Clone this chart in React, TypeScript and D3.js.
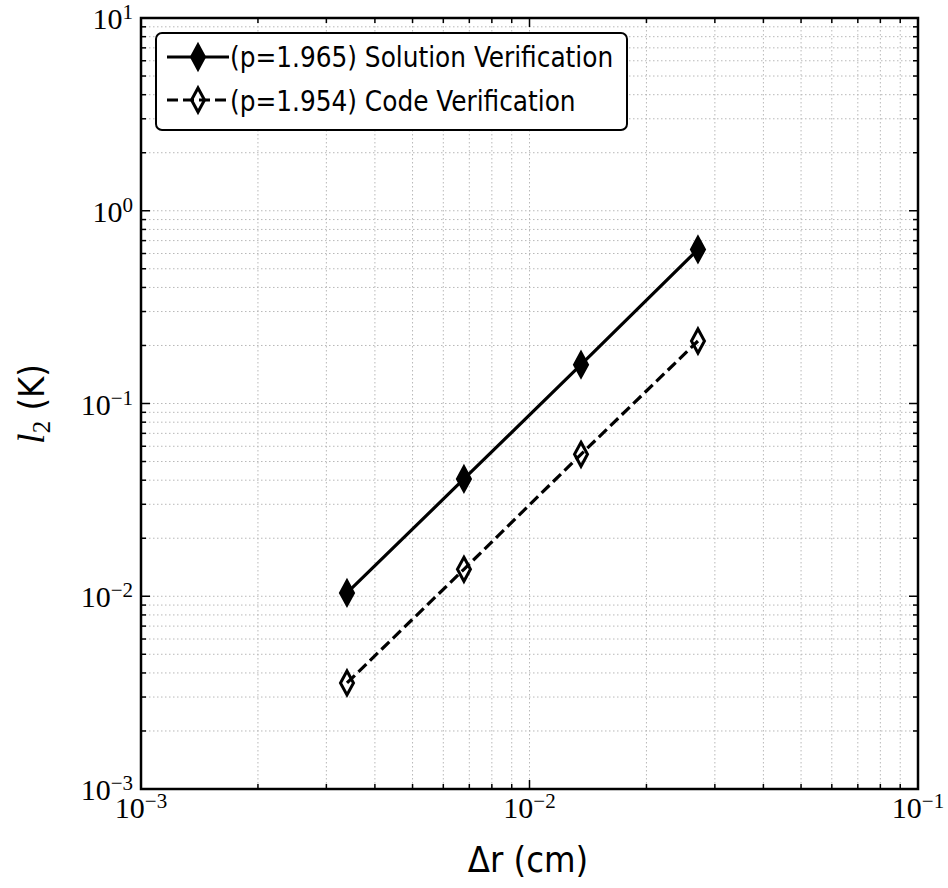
import React from "react";
import * as d3 from "d3";

const dr = [0.00339, 0.00678, 0.01357, 0.02714];
const solutionL2 = [0.0104, 0.0406, 0.159, 0.63];
const codeL2 = [0.00355, 0.0138, 0.0545, 0.211];
const seriesLabels = ["(p=1.965) Solution Verification", "(p=1.954) Code Verification"];
const xTickExps = [-3, -2, -1];
const yTickExps = [1, 0, -1, -2, -3];

const W = 948, H = 888;
const M = { left: 141, right: 918, top: 18, bottom: 789 };

export default function App() {
  const x = d3.scaleLog().domain([1e-3, 1e-1]).range([M.left, M.right]);
  const y = d3.scaleLog().domain([1e-3, 1e1]).range([M.bottom, M.top]);
  const line = d3.line<number>().x((_, i) => x(dr[i])).y((d) => y(d));

  const xMinor: number[] = [];
  for (let e = -3; e < -1; e++) for (let k = 2; k <= 9; k++) xMinor.push(k * Math.pow(10, e));
  const yMinor: number[] = [];
  for (let e = -3; e < 1; e++) for (let k = 2; k <= 9; k++) yMinor.push(k * Math.pow(10, e));
  const xMajor = xTickExps.map((e) => Math.pow(10, e));
  const yMajor = yTickExps.map((e) => Math.pow(10, e));

  const diamond = (cx: number, cy: number, filled: boolean, key: string) => (
    <path
      key={key}
      d={`M${cx},${cy - 12} L${cx + 6.5},${cy} L${cx},${cy + 12} L${cx - 6.5},${cy} Z`}
      fill={filled ? "#000" : "none"}
      stroke="#000"
      strokeWidth={3}
      strokeLinejoin="miter"
    />
  );

  const gridColor = "#b8b8b8";
  const serif = "'Liberation Serif', 'Times New Roman', serif";
  const sans = "'DejaVu Sans Condensed', 'DejaVu Sans', sans-serif";

  return (
    <svg width={W} height={H} style={{ display: "block", position: "absolute", left: 0, top: 0 }}>
      <rect x={0} y={0} width={W} height={H} fill="#fff" />
      {/* grid */}
      <g stroke={gridColor} strokeWidth={1} strokeDasharray="1.5,2.5">
        {[...xMinor, ...xMajor].map((v, i) => (
          <line key={"gx" + i} x1={x(v)} x2={x(v)} y1={M.top} y2={M.bottom} />
        ))}
        {[...yMinor, ...yMajor].map((v, i) => (
          <line key={"gy" + i} x1={M.left} x2={M.right} y1={y(v)} y2={y(v)} />
        ))}
      </g>
      {/* ticks */}
      <g stroke="#000" strokeWidth={1.5}>
        {xMajor.map((v, i) => (
          <g key={"xt" + i}>
            <line x1={x(v)} x2={x(v)} y1={M.bottom} y2={M.bottom - 9} />
            <line x1={x(v)} x2={x(v)} y1={M.top} y2={M.top + 9} />
          </g>
        ))}
        {xMinor.map((v, i) => (
          <g key={"xm" + i}>
            <line x1={x(v)} x2={x(v)} y1={M.bottom} y2={M.bottom - 5} />
            <line x1={x(v)} x2={x(v)} y1={M.top} y2={M.top + 5} />
          </g>
        ))}
        {yMajor.map((v, i) => (
          <g key={"yt" + i}>
            <line x1={M.left} x2={M.left + 9} y1={y(v)} y2={y(v)} />
            <line x1={M.right} x2={M.right - 9} y1={y(v)} y2={y(v)} />
          </g>
        ))}
        {yMinor.map((v, i) => (
          <g key={"ym" + i}>
            <line x1={M.left} x2={M.left + 5} y1={y(v)} y2={y(v)} />
            <line x1={M.right} x2={M.right - 5} y1={y(v)} y2={y(v)} />
          </g>
        ))}
      </g>
      {/* data */}
      <path d={line(solutionL2) || ""} fill="none" stroke="#000" strokeWidth={3.2} />
      <path d={line(codeL2) || ""} fill="none" stroke="#000" strokeWidth={3.2} strokeDasharray="11,5" />
      {solutionL2.map((v, i) => diamond(x(dr[i]), y(v), true, "s" + i))}
      {codeL2.map((v, i) => diamond(x(dr[i]), y(v), false, "c" + i))}
      {/* frame */}
      <rect x={M.left} y={M.top} width={M.right - M.left} height={M.bottom - M.top} fill="none" stroke="#000" strokeWidth={2.5} />
      {/* tick labels */}
      {xTickExps.map((e, i) => (
        <text key={"xl" + i} x={x(Math.pow(10, e))} y={M.bottom + 29} textAnchor="middle" style={{ fontFamily: serif }} fontSize={30} fill="#000">
          10<tspan dy={-10} fontSize={21}>{"\u2212" + Math.abs(e)}</tspan>
        </text>
      ))}
      {yTickExps.map((e, i) => (
        <text key={"yl" + i} x={M.left - 8} y={y(Math.pow(10, e)) + 11} textAnchor="end" style={{ fontFamily: serif }} fontSize={30} fill="#000">
          10<tspan dy={-10} fontSize={21}>{e < 0 ? "\u2212" + Math.abs(e) : String(e)}</tspan>
        </text>
      ))}
      {/* axis labels */}
      <text x={528} y={872} textAnchor="middle" style={{ fontFamily: sans }} fontSize={36} fill="#000">
        Δr (cm)
      </text>
      <text transform={`translate(44,404) rotate(-90)`} textAnchor="middle" style={{ fontFamily: sans }} fontSize={36} fill="#000">
        <tspan style={{ fontFamily: serif }} fontStyle="italic" fontSize={38}>l</tspan>
        <tspan style={{ fontFamily: serif }} fontSize={25} dy={6}>2</tspan>
        <tspan dy={-6}> (K)</tspan>
      </text>
      {/* legend */}
      <rect x={156} y={33} width={471} height={97} rx={6} fill="#fff" stroke="#000" strokeWidth={2} />
      <line x1={167} x2={229} y1={57} y2={57} stroke="#000" strokeWidth={3.2} />
      {diamond(198, 57, true, "l1")}
      <line x1={167} x2={229} y1={100} y2={100} stroke="#000" strokeWidth={3.2} strokeDasharray="11,5" />
      {diamond(198, 100, false, "l2")}
      <text x={230} y={67} style={{ fontFamily: sans }} fontSize={27.6} fill="#000">{seriesLabels[0]}</text>
      <text x={230} y={111} style={{ fontFamily: sans }} fontSize={27.6} fill="#000">{seriesLabels[1]}</text>
    </svg>
  );
}
